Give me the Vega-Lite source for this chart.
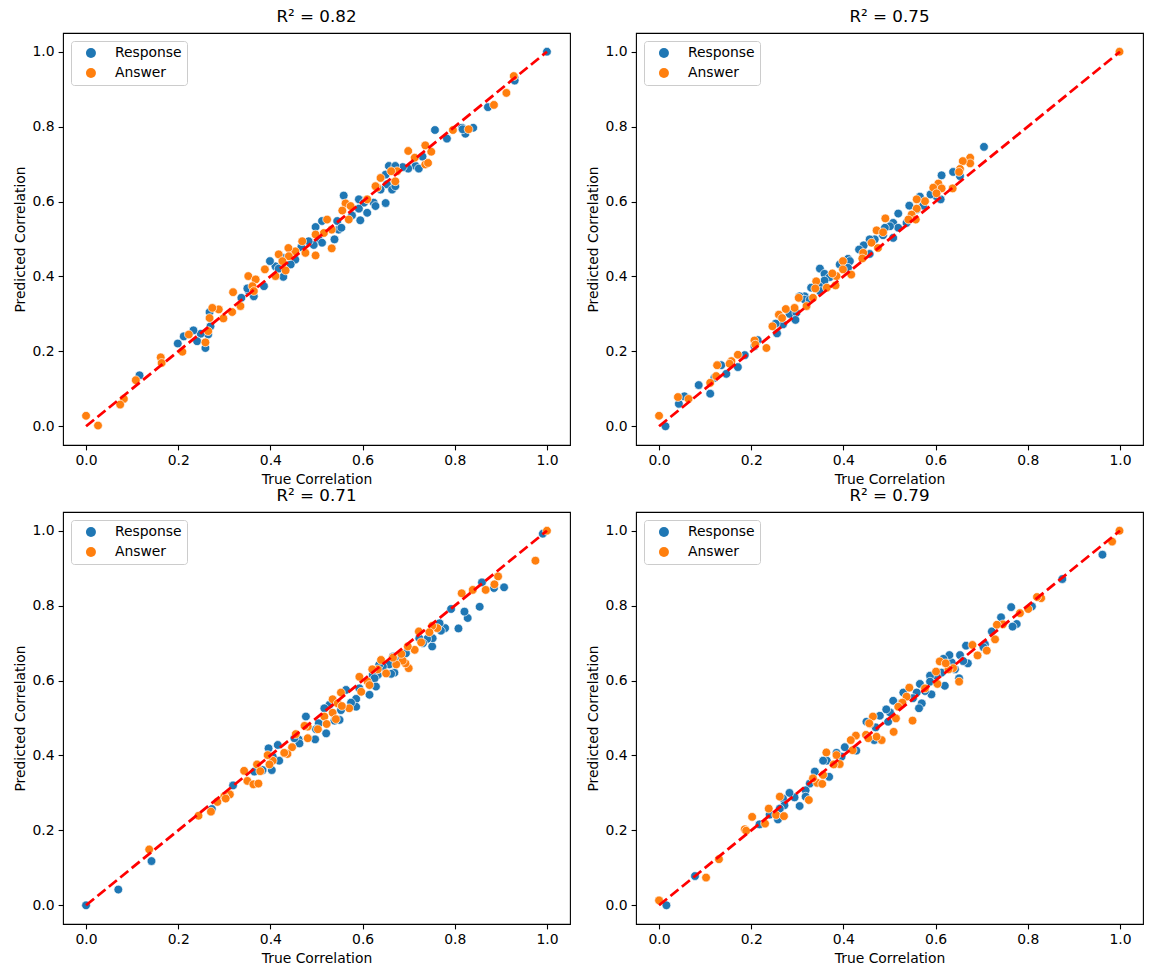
{
  "$schema": "https://vega.github.io/schema/vega-lite/v6.json",
  "background": "white",
  "padding": {"left": 12, "top": 8, "right": 5, "bottom": 5},
  "columns": 2,
  "spacing": {"row": 67, "column": 66},
  "bounds": "flush",
  "resolve": {"legend": {"color": "independent"}},
  "datasets": {
    "diag": [{"truth": 0, "pred": 0}, {"truth": 1, "pred": 1}],
    "p1": [
      {"truth": 1.0, "pred": 1.0, "series": "Response"},
      {"truth": 0.93, "pred": 0.93, "series": "Response"},
      {"truth": 0.93, "pred": 0.923, "series": "Response"},
      {"truth": 0.872, "pred": 0.852, "series": "Response"},
      {"truth": 0.757, "pred": 0.791, "series": "Response"},
      {"truth": 0.783, "pred": 0.768, "series": "Response"},
      {"truth": 0.816, "pred": 0.797, "series": "Response"},
      {"truth": 0.823, "pred": 0.781, "series": "Response"},
      {"truth": 0.84, "pred": 0.797, "series": "Response"},
      {"truth": 0.817, "pred": 0.793, "series": "Response"},
      {"truth": 0.73, "pred": 0.72, "series": "Response"},
      {"truth": 0.715, "pred": 0.695, "series": "Response"},
      {"truth": 0.722, "pred": 0.688, "series": "Response"},
      {"truth": 0.699, "pred": 0.688, "series": "Response"},
      {"truth": 0.687, "pred": 0.692, "series": "Response"},
      {"truth": 0.657, "pred": 0.695, "series": "Response"},
      {"truth": 0.671, "pred": 0.695, "series": "Response"},
      {"truth": 0.65, "pred": 0.672, "series": "Response"},
      {"truth": 0.653, "pred": 0.646, "series": "Response"},
      {"truth": 0.664, "pred": 0.632, "series": "Response"},
      {"truth": 0.671, "pred": 0.641, "series": "Response"},
      {"truth": 0.639, "pred": 0.632, "series": "Response"},
      {"truth": 0.65, "pred": 0.596, "series": "Response"},
      {"truth": 0.559, "pred": 0.616, "series": "Response"},
      {"truth": 0.592, "pred": 0.606, "series": "Response"},
      {"truth": 0.603, "pred": 0.597, "series": "Response"},
      {"truth": 0.624, "pred": 0.597, "series": "Response"},
      {"truth": 0.628, "pred": 0.588, "series": "Response"},
      {"truth": 0.61, "pred": 0.57, "series": "Response"},
      {"truth": 0.592, "pred": 0.581, "series": "Response"},
      {"truth": 0.595, "pred": 0.55, "series": "Response"},
      {"truth": 0.577, "pred": 0.563, "series": "Response"},
      {"truth": 0.548, "pred": 0.525, "series": "Response"},
      {"truth": 0.545, "pred": 0.548, "series": "Response"},
      {"truth": 0.539, "pred": 0.499, "series": "Response"},
      {"truth": 0.554, "pred": 0.53, "series": "Response"},
      {"truth": 0.498, "pred": 0.532, "series": "Response"},
      {"truth": 0.512, "pred": 0.548, "series": "Response"},
      {"truth": 0.505, "pred": 0.499, "series": "Response"},
      {"truth": 0.512, "pred": 0.49, "series": "Response"},
      {"truth": 0.494, "pred": 0.484, "series": "Response"},
      {"truth": 0.483, "pred": 0.494, "series": "Response"},
      {"truth": 0.467, "pred": 0.478, "series": "Response"},
      {"truth": 0.454, "pred": 0.445, "series": "Response"},
      {"truth": 0.444, "pred": 0.432, "series": "Response"},
      {"truth": 0.426, "pred": 0.45, "series": "Response"},
      {"truth": 0.428, "pred": 0.399, "series": "Response"},
      {"truth": 0.411, "pred": 0.427, "series": "Response"},
      {"truth": 0.418, "pred": 0.421, "series": "Response"},
      {"truth": 0.399, "pred": 0.441, "series": "Response"},
      {"truth": 0.386, "pred": 0.374, "series": "Response"},
      {"truth": 0.364, "pred": 0.347, "series": "Response"},
      {"truth": 0.353, "pred": 0.361, "series": "Response"},
      {"truth": 0.337, "pred": 0.343, "series": "Response"},
      {"truth": 0.35, "pred": 0.368, "series": "Response"},
      {"truth": 0.268, "pred": 0.305, "series": "Response"},
      {"truth": 0.27, "pred": 0.267, "series": "Response"},
      {"truth": 0.265, "pred": 0.245, "series": "Response"},
      {"truth": 0.259, "pred": 0.209, "series": "Response"},
      {"truth": 0.249, "pred": 0.247, "series": "Response"},
      {"truth": 0.233, "pred": 0.256, "series": "Response"},
      {"truth": 0.241, "pred": 0.227, "series": "Response"},
      {"truth": 0.212, "pred": 0.24, "series": "Response"},
      {"truth": 0.199, "pred": 0.221, "series": "Response"},
      {"truth": 0.116, "pred": 0.136, "series": "Response"},
      {"truth": 0.928, "pred": 0.935, "series": "Answer"},
      {"truth": 0.912, "pred": 0.89, "series": "Answer"},
      {"truth": 0.885, "pred": 0.858, "series": "Answer"},
      {"truth": 0.83, "pred": 0.793, "series": "Answer"},
      {"truth": 0.796, "pred": 0.791, "series": "Answer"},
      {"truth": 0.736, "pred": 0.75, "series": "Answer"},
      {"truth": 0.749, "pred": 0.733, "series": "Answer"},
      {"truth": 0.736, "pred": 0.699, "series": "Answer"},
      {"truth": 0.742, "pred": 0.703, "series": "Answer"},
      {"truth": 0.699, "pred": 0.735, "series": "Answer"},
      {"truth": 0.713, "pred": 0.717, "series": "Answer"},
      {"truth": 0.675, "pred": 0.681, "series": "Answer"},
      {"truth": 0.662, "pred": 0.681, "series": "Answer"},
      {"truth": 0.671, "pred": 0.654, "series": "Answer"},
      {"truth": 0.639, "pred": 0.663, "series": "Answer"},
      {"truth": 0.632, "pred": 0.637, "series": "Answer"},
      {"truth": 0.628, "pred": 0.641, "series": "Answer"},
      {"truth": 0.61, "pred": 0.606, "series": "Answer"},
      {"truth": 0.563, "pred": 0.595, "series": "Answer"},
      {"truth": 0.574, "pred": 0.588, "series": "Answer"},
      {"truth": 0.556, "pred": 0.576, "series": "Answer"},
      {"truth": 0.57, "pred": 0.552, "series": "Answer"},
      {"truth": 0.523, "pred": 0.552, "series": "Answer"},
      {"truth": 0.533, "pred": 0.525, "series": "Answer"},
      {"truth": 0.516, "pred": 0.516, "series": "Answer"},
      {"truth": 0.498, "pred": 0.512, "series": "Answer"},
      {"truth": 0.533, "pred": 0.475, "series": "Answer"},
      {"truth": 0.469, "pred": 0.494, "series": "Answer"},
      {"truth": 0.476, "pred": 0.463, "series": "Answer"},
      {"truth": 0.498, "pred": 0.456, "series": "Answer"},
      {"truth": 0.454, "pred": 0.467, "series": "Answer"},
      {"truth": 0.439, "pred": 0.476, "series": "Answer"},
      {"truth": 0.418, "pred": 0.459, "series": "Answer"},
      {"truth": 0.44, "pred": 0.454, "series": "Answer"},
      {"truth": 0.426, "pred": 0.441, "series": "Answer"},
      {"truth": 0.433, "pred": 0.416, "series": "Answer"},
      {"truth": 0.411, "pred": 0.401, "series": "Answer"},
      {"truth": 0.388, "pred": 0.419, "series": "Answer"},
      {"truth": 0.352, "pred": 0.401, "series": "Answer"},
      {"truth": 0.368, "pred": 0.392, "series": "Answer"},
      {"truth": 0.361, "pred": 0.374, "series": "Answer"},
      {"truth": 0.364, "pred": 0.361, "series": "Answer"},
      {"truth": 0.319, "pred": 0.358, "series": "Answer"},
      {"truth": 0.335, "pred": 0.321, "series": "Answer"},
      {"truth": 0.317, "pred": 0.305, "series": "Answer"},
      {"truth": 0.288, "pred": 0.312, "series": "Answer"},
      {"truth": 0.274, "pred": 0.316, "series": "Answer"},
      {"truth": 0.268, "pred": 0.289, "series": "Answer"},
      {"truth": 0.298, "pred": 0.288, "series": "Answer"},
      {"truth": 0.265, "pred": 0.254, "series": "Answer"},
      {"truth": 0.259, "pred": 0.224, "series": "Answer"},
      {"truth": 0.223, "pred": 0.245, "series": "Answer"},
      {"truth": 0.209, "pred": 0.199, "series": "Answer"},
      {"truth": 0.162, "pred": 0.184, "series": "Answer"},
      {"truth": 0.164, "pred": 0.169, "series": "Answer"},
      {"truth": 0.108, "pred": 0.123, "series": "Answer"},
      {"truth": 0.082, "pred": 0.073, "series": "Answer"},
      {"truth": 0.074, "pred": 0.058, "series": "Answer"},
      {"truth": 0.0, "pred": 0.028, "series": "Answer"},
      {"truth": 0.026, "pred": 0.002, "series": "Answer"}
    ],
    "p2": [
      {"truth": 0.705, "pred": 0.746, "series": "Response"},
      {"truth": 0.638, "pred": 0.679, "series": "Response"},
      {"truth": 0.653, "pred": 0.668, "series": "Response"},
      {"truth": 0.613, "pred": 0.67, "series": "Response"},
      {"truth": 0.611, "pred": 0.606, "series": "Response"},
      {"truth": 0.602, "pred": 0.614, "series": "Response"},
      {"truth": 0.589, "pred": 0.619, "series": "Response"},
      {"truth": 0.566, "pred": 0.613, "series": "Response"},
      {"truth": 0.543, "pred": 0.589, "series": "Response"},
      {"truth": 0.573, "pred": 0.589, "series": "Response"},
      {"truth": 0.559, "pred": 0.579, "series": "Response"},
      {"truth": 0.519, "pred": 0.568, "series": "Response"},
      {"truth": 0.537, "pred": 0.543, "series": "Response"},
      {"truth": 0.508, "pred": 0.543, "series": "Response"},
      {"truth": 0.519, "pred": 0.53, "series": "Response"},
      {"truth": 0.501, "pred": 0.534, "series": "Response"},
      {"truth": 0.49, "pred": 0.53, "series": "Response"},
      {"truth": 0.508, "pred": 0.503, "series": "Response"},
      {"truth": 0.486, "pred": 0.51, "series": "Response"},
      {"truth": 0.468, "pred": 0.499, "series": "Response"},
      {"truth": 0.457, "pred": 0.499, "series": "Response"},
      {"truth": 0.444, "pred": 0.483, "series": "Response"},
      {"truth": 0.434, "pred": 0.472, "series": "Response"},
      {"truth": 0.457, "pred": 0.46, "series": "Response"},
      {"truth": 0.41, "pred": 0.447, "series": "Response"},
      {"truth": 0.414, "pred": 0.441, "series": "Response"},
      {"truth": 0.392, "pred": 0.432, "series": "Response"},
      {"truth": 0.41, "pred": 0.423, "series": "Response"},
      {"truth": 0.349, "pred": 0.421, "series": "Response"},
      {"truth": 0.359, "pred": 0.407, "series": "Response"},
      {"truth": 0.37, "pred": 0.398, "series": "Response"},
      {"truth": 0.359, "pred": 0.389, "series": "Response"},
      {"truth": 0.347, "pred": 0.374, "series": "Response"},
      {"truth": 0.33, "pred": 0.37, "series": "Response"},
      {"truth": 0.349, "pred": 0.361, "series": "Response"},
      {"truth": 0.316, "pred": 0.347, "series": "Response"},
      {"truth": 0.305, "pred": 0.347, "series": "Response"},
      {"truth": 0.316, "pred": 0.338, "series": "Response"},
      {"truth": 0.327, "pred": 0.338, "series": "Response"},
      {"truth": 0.283, "pred": 0.3, "series": "Response"},
      {"truth": 0.298, "pred": 0.303, "series": "Response"},
      {"truth": 0.296, "pred": 0.284, "series": "Response"},
      {"truth": 0.269, "pred": 0.272, "series": "Response"},
      {"truth": 0.253, "pred": 0.274, "series": "Response"},
      {"truth": 0.256, "pred": 0.248, "series": "Response"},
      {"truth": 0.214, "pred": 0.23, "series": "Response"},
      {"truth": 0.207, "pred": 0.214, "series": "Response"},
      {"truth": 0.186, "pred": 0.19, "series": "Response"},
      {"truth": 0.171, "pred": 0.158, "series": "Response"},
      {"truth": 0.146, "pred": 0.14, "series": "Response"},
      {"truth": 0.135, "pred": 0.163, "series": "Response"},
      {"truth": 0.12, "pred": 0.129, "series": "Response"},
      {"truth": 0.111, "pred": 0.087, "series": "Response"},
      {"truth": 0.086, "pred": 0.11, "series": "Response"},
      {"truth": 0.055, "pred": 0.08, "series": "Response"},
      {"truth": 0.043, "pred": 0.06, "series": "Response"},
      {"truth": 0.014, "pred": 0.0, "series": "Response"},
      {"truth": 0.999, "pred": 1.0, "series": "Answer"},
      {"truth": 0.675, "pred": 0.717, "series": "Answer"},
      {"truth": 0.675, "pred": 0.702, "series": "Answer"},
      {"truth": 0.659, "pred": 0.708, "series": "Answer"},
      {"truth": 0.653, "pred": 0.687, "series": "Answer"},
      {"truth": 0.651, "pred": 0.679, "series": "Answer"},
      {"truth": 0.637, "pred": 0.635, "series": "Answer"},
      {"truth": 0.606, "pred": 0.648, "series": "Answer"},
      {"truth": 0.595, "pred": 0.637, "series": "Answer"},
      {"truth": 0.613, "pred": 0.635, "series": "Answer"},
      {"truth": 0.602, "pred": 0.622, "series": "Answer"},
      {"truth": 0.577, "pred": 0.601, "series": "Answer"},
      {"truth": 0.559, "pred": 0.606, "series": "Answer"},
      {"truth": 0.559, "pred": 0.581, "series": "Answer"},
      {"truth": 0.548, "pred": 0.565, "series": "Answer"},
      {"truth": 0.557, "pred": 0.552, "series": "Answer"},
      {"truth": 0.541, "pred": 0.552, "series": "Answer"},
      {"truth": 0.491, "pred": 0.555, "series": "Answer"},
      {"truth": 0.472, "pred": 0.523, "series": "Answer"},
      {"truth": 0.486, "pred": 0.518, "series": "Answer"},
      {"truth": 0.461, "pred": 0.49, "series": "Answer"},
      {"truth": 0.475, "pred": 0.476, "series": "Answer"},
      {"truth": 0.443, "pred": 0.463, "series": "Answer"},
      {"truth": 0.441, "pred": 0.448, "series": "Answer"},
      {"truth": 0.417, "pred": 0.405, "series": "Answer"},
      {"truth": 0.399, "pred": 0.441, "series": "Answer"},
      {"truth": 0.399, "pred": 0.419, "series": "Answer"},
      {"truth": 0.385, "pred": 0.401, "series": "Answer"},
      {"truth": 0.376, "pred": 0.408, "series": "Answer"},
      {"truth": 0.383, "pred": 0.376, "series": "Answer"},
      {"truth": 0.364, "pred": 0.37, "series": "Answer"},
      {"truth": 0.341, "pred": 0.387, "series": "Answer"},
      {"truth": 0.339, "pred": 0.368, "series": "Answer"},
      {"truth": 0.334, "pred": 0.343, "series": "Answer"},
      {"truth": 0.303, "pred": 0.343, "series": "Answer"},
      {"truth": 0.32, "pred": 0.321, "series": "Answer"},
      {"truth": 0.294, "pred": 0.316, "series": "Answer"},
      {"truth": 0.275, "pred": 0.313, "series": "Answer"},
      {"truth": 0.26, "pred": 0.298, "series": "Answer"},
      {"truth": 0.267, "pred": 0.289, "series": "Answer"},
      {"truth": 0.246, "pred": 0.267, "series": "Answer"},
      {"truth": 0.207, "pred": 0.229, "series": "Answer"},
      {"truth": 0.209, "pred": 0.218, "series": "Answer"},
      {"truth": 0.233, "pred": 0.209, "series": "Answer"},
      {"truth": 0.171, "pred": 0.191, "series": "Answer"},
      {"truth": 0.157, "pred": 0.174, "series": "Answer"},
      {"truth": 0.153, "pred": 0.167, "series": "Answer"},
      {"truth": 0.126, "pred": 0.163, "series": "Answer"},
      {"truth": 0.124, "pred": 0.134, "series": "Answer"},
      {"truth": 0.111, "pred": 0.116, "series": "Answer"},
      {"truth": 0.064, "pred": 0.073, "series": "Answer"},
      {"truth": 0.041, "pred": 0.078, "series": "Answer"},
      {"truth": 0.0, "pred": 0.028, "series": "Answer"}
    ],
    "p3": [
      {"truth": 0.991, "pred": 0.992, "series": "Response"},
      {"truth": 0.907, "pred": 0.849, "series": "Response"},
      {"truth": 0.885, "pred": 0.847, "series": "Response"},
      {"truth": 0.859, "pred": 0.862, "series": "Response"},
      {"truth": 0.854, "pred": 0.797, "series": "Response"},
      {"truth": 0.828, "pred": 0.767, "series": "Response"},
      {"truth": 0.821, "pred": 0.784, "series": "Response"},
      {"truth": 0.808, "pred": 0.739, "series": "Response"},
      {"truth": 0.792, "pred": 0.791, "series": "Response"},
      {"truth": 0.779, "pred": 0.74, "series": "Response"},
      {"truth": 0.767, "pred": 0.753, "series": "Response"},
      {"truth": 0.77, "pred": 0.733, "series": "Response"},
      {"truth": 0.751, "pred": 0.691, "series": "Response"},
      {"truth": 0.752, "pred": 0.713, "series": "Response"},
      {"truth": 0.74, "pred": 0.711, "series": "Response"},
      {"truth": 0.731, "pred": 0.7, "series": "Response"},
      {"truth": 0.723, "pred": 0.713, "series": "Response"},
      {"truth": 0.694, "pred": 0.673, "series": "Response"},
      {"truth": 0.676, "pred": 0.664, "series": "Response"},
      {"truth": 0.666, "pred": 0.664, "series": "Response"},
      {"truth": 0.658, "pred": 0.643, "series": "Response"},
      {"truth": 0.669, "pred": 0.621, "series": "Response"},
      {"truth": 0.662, "pred": 0.618, "series": "Response"},
      {"truth": 0.644, "pred": 0.637, "series": "Response"},
      {"truth": 0.636, "pred": 0.642, "series": "Response"},
      {"truth": 0.633, "pred": 0.615, "series": "Response"},
      {"truth": 0.622, "pred": 0.615, "series": "Response"},
      {"truth": 0.626, "pred": 0.606, "series": "Response"},
      {"truth": 0.629, "pred": 0.584, "series": "Response"},
      {"truth": 0.615, "pred": 0.562, "series": "Response"},
      {"truth": 0.593, "pred": 0.579, "series": "Response"},
      {"truth": 0.586, "pred": 0.551, "series": "Response"},
      {"truth": 0.586, "pred": 0.53, "series": "Response"},
      {"truth": 0.575, "pred": 0.541, "series": "Response"},
      {"truth": 0.564, "pred": 0.575, "series": "Response"},
      {"truth": 0.553, "pred": 0.521, "series": "Response"},
      {"truth": 0.55, "pred": 0.495, "series": "Response"},
      {"truth": 0.539, "pred": 0.493, "series": "Response"},
      {"truth": 0.528, "pred": 0.535, "series": "Response"},
      {"truth": 0.517, "pred": 0.526, "series": "Response"},
      {"truth": 0.521, "pred": 0.459, "series": "Response"},
      {"truth": 0.505, "pred": 0.486, "series": "Response"},
      {"truth": 0.499, "pred": 0.47, "series": "Response"},
      {"truth": 0.497, "pred": 0.443, "series": "Response"},
      {"truth": 0.477, "pred": 0.504, "series": "Response"},
      {"truth": 0.461, "pred": 0.443, "series": "Response"},
      {"truth": 0.463, "pred": 0.432, "series": "Response"},
      {"truth": 0.452, "pred": 0.446, "series": "Response"},
      {"truth": 0.419, "pred": 0.386, "series": "Response"},
      {"truth": 0.416, "pred": 0.428, "series": "Response"},
      {"truth": 0.405, "pred": 0.397, "series": "Response"},
      {"truth": 0.396, "pred": 0.419, "series": "Response"},
      {"truth": 0.403, "pred": 0.361, "series": "Response"},
      {"truth": 0.383, "pred": 0.361, "series": "Response"},
      {"truth": 0.365, "pred": 0.357, "series": "Response"},
      {"truth": 0.319, "pred": 0.32, "series": "Response"},
      {"truth": 0.273, "pred": 0.257, "series": "Response"},
      {"truth": 0.142, "pred": 0.118, "series": "Response"},
      {"truth": 0.07, "pred": 0.042, "series": "Response"},
      {"truth": 0.0, "pred": 0.0, "series": "Response"},
      {"truth": 1.0, "pred": 1.0, "series": "Answer"},
      {"truth": 0.975, "pred": 0.92, "series": "Answer"},
      {"truth": 0.894, "pred": 0.878, "series": "Answer"},
      {"truth": 0.886, "pred": 0.857, "series": "Answer"},
      {"truth": 0.867, "pred": 0.842, "series": "Answer"},
      {"truth": 0.839, "pred": 0.842, "series": "Answer"},
      {"truth": 0.815, "pred": 0.833, "series": "Answer"},
      {"truth": 0.762, "pred": 0.74, "series": "Answer"},
      {"truth": 0.751, "pred": 0.746, "series": "Answer"},
      {"truth": 0.745, "pred": 0.729, "series": "Answer"},
      {"truth": 0.727, "pred": 0.702, "series": "Answer"},
      {"truth": 0.722, "pred": 0.731, "series": "Answer"},
      {"truth": 0.713, "pred": 0.682, "series": "Answer"},
      {"truth": 0.698, "pred": 0.691, "series": "Answer"},
      {"truth": 0.7, "pred": 0.633, "series": "Answer"},
      {"truth": 0.693, "pred": 0.646, "series": "Answer"},
      {"truth": 0.687, "pred": 0.653, "series": "Answer"},
      {"truth": 0.684, "pred": 0.671, "series": "Answer"},
      {"truth": 0.673, "pred": 0.643, "series": "Answer"},
      {"truth": 0.666, "pred": 0.661, "series": "Answer"},
      {"truth": 0.651, "pred": 0.619, "series": "Answer"},
      {"truth": 0.64, "pred": 0.655, "series": "Answer"},
      {"truth": 0.633, "pred": 0.63, "series": "Answer"},
      {"truth": 0.621, "pred": 0.63, "series": "Answer"},
      {"truth": 0.611, "pred": 0.597, "series": "Answer"},
      {"truth": 0.593, "pred": 0.61, "series": "Answer"},
      {"truth": 0.597, "pred": 0.57, "series": "Answer"},
      {"truth": 0.615, "pred": 0.588, "series": "Answer"},
      {"truth": 0.571, "pred": 0.526, "series": "Answer"},
      {"truth": 0.553, "pred": 0.568, "series": "Answer"},
      {"truth": 0.535, "pred": 0.55, "series": "Answer"},
      {"truth": 0.546, "pred": 0.539, "series": "Answer"},
      {"truth": 0.555, "pred": 0.532, "series": "Answer"},
      {"truth": 0.535, "pred": 0.514, "series": "Answer"},
      {"truth": 0.517, "pred": 0.504, "series": "Answer"},
      {"truth": 0.542, "pred": 0.497, "series": "Answer"},
      {"truth": 0.522, "pred": 0.484, "series": "Answer"},
      {"truth": 0.503, "pred": 0.47, "series": "Answer"},
      {"truth": 0.481, "pred": 0.477, "series": "Answer"},
      {"truth": 0.474, "pred": 0.479, "series": "Answer"},
      {"truth": 0.481, "pred": 0.446, "series": "Answer"},
      {"truth": 0.455, "pred": 0.457, "series": "Answer"},
      {"truth": 0.447, "pred": 0.422, "series": "Answer"},
      {"truth": 0.437, "pred": 0.404, "series": "Answer"},
      {"truth": 0.43, "pred": 0.407, "series": "Answer"},
      {"truth": 0.405, "pred": 0.386, "series": "Answer"},
      {"truth": 0.394, "pred": 0.401, "series": "Answer"},
      {"truth": 0.398, "pred": 0.376, "series": "Answer"},
      {"truth": 0.371, "pred": 0.376, "series": "Answer"},
      {"truth": 0.378, "pred": 0.358, "series": "Answer"},
      {"truth": 0.343, "pred": 0.359, "series": "Answer"},
      {"truth": 0.35, "pred": 0.332, "series": "Answer"},
      {"truth": 0.363, "pred": 0.323, "series": "Answer"},
      {"truth": 0.374, "pred": 0.325, "series": "Answer"},
      {"truth": 0.312, "pred": 0.296, "series": "Answer"},
      {"truth": 0.3, "pred": 0.291, "series": "Answer"},
      {"truth": 0.285, "pred": 0.276, "series": "Answer"},
      {"truth": 0.303, "pred": 0.285, "series": "Answer"},
      {"truth": 0.271, "pred": 0.25, "series": "Answer"},
      {"truth": 0.244, "pred": 0.239, "series": "Answer"},
      {"truth": 0.137, "pred": 0.149, "series": "Answer"}
    ],
    "p4": [
      {"truth": 0.962, "pred": 0.936, "series": "Response"},
      {"truth": 0.875, "pred": 0.871, "series": "Response"},
      {"truth": 0.809, "pred": 0.798, "series": "Response"},
      {"truth": 0.764, "pred": 0.796, "series": "Response"},
      {"truth": 0.776, "pred": 0.751, "series": "Response"},
      {"truth": 0.767, "pred": 0.744, "series": "Response"},
      {"truth": 0.742, "pred": 0.769, "series": "Response"},
      {"truth": 0.722, "pred": 0.731, "series": "Response"},
      {"truth": 0.707, "pred": 0.697, "series": "Response"},
      {"truth": 0.704, "pred": 0.689, "series": "Response"},
      {"truth": 0.666, "pred": 0.693, "series": "Response"},
      {"truth": 0.653, "pred": 0.668, "series": "Response"},
      {"truth": 0.67, "pred": 0.646, "series": "Response"},
      {"truth": 0.66, "pred": 0.652, "series": "Response"},
      {"truth": 0.635, "pred": 0.648, "series": "Response"},
      {"truth": 0.63, "pred": 0.668, "series": "Response"},
      {"truth": 0.617, "pred": 0.658, "series": "Response"},
      {"truth": 0.642, "pred": 0.63, "series": "Response"},
      {"truth": 0.651, "pred": 0.606, "series": "Response"},
      {"truth": 0.62, "pred": 0.586, "series": "Response"},
      {"truth": 0.613, "pred": 0.621, "series": "Response"},
      {"truth": 0.602, "pred": 0.613, "series": "Response"},
      {"truth": 0.588, "pred": 0.613, "series": "Response"},
      {"truth": 0.588, "pred": 0.597, "series": "Response"},
      {"truth": 0.591, "pred": 0.563, "series": "Response"},
      {"truth": 0.577, "pred": 0.572, "series": "Response"},
      {"truth": 0.566, "pred": 0.591, "series": "Response"},
      {"truth": 0.559, "pred": 0.568, "series": "Response"},
      {"truth": 0.57, "pred": 0.539, "series": "Response"},
      {"truth": 0.564, "pred": 0.526, "series": "Response"},
      {"truth": 0.551, "pred": 0.553, "series": "Response"},
      {"truth": 0.53, "pred": 0.568, "series": "Response"},
      {"truth": 0.525, "pred": 0.539, "series": "Response"},
      {"truth": 0.508, "pred": 0.546, "series": "Response"},
      {"truth": 0.501, "pred": 0.515, "series": "Response"},
      {"truth": 0.493, "pred": 0.523, "series": "Response"},
      {"truth": 0.497, "pred": 0.49, "series": "Response"},
      {"truth": 0.479, "pred": 0.506, "series": "Response"},
      {"truth": 0.47, "pred": 0.475, "series": "Response"},
      {"truth": 0.45, "pred": 0.49, "series": "Response"},
      {"truth": 0.467, "pred": 0.441, "series": "Response"},
      {"truth": 0.428, "pred": 0.413, "series": "Response"},
      {"truth": 0.403, "pred": 0.422, "series": "Response"},
      {"truth": 0.396, "pred": 0.397, "series": "Response"},
      {"truth": 0.385, "pred": 0.407, "series": "Response"},
      {"truth": 0.364, "pred": 0.386, "series": "Response"},
      {"truth": 0.356, "pred": 0.386, "series": "Response"},
      {"truth": 0.369, "pred": 0.343, "series": "Response"},
      {"truth": 0.338, "pred": 0.357, "series": "Response"},
      {"truth": 0.327, "pred": 0.325, "series": "Response"},
      {"truth": 0.318, "pred": 0.307, "series": "Response"},
      {"truth": 0.318, "pred": 0.29, "series": "Response"},
      {"truth": 0.305, "pred": 0.265, "series": "Response"},
      {"truth": 0.294, "pred": 0.288, "series": "Response"},
      {"truth": 0.283, "pred": 0.3, "series": "Response"},
      {"truth": 0.269, "pred": 0.285, "series": "Response"},
      {"truth": 0.272, "pred": 0.267, "series": "Response"},
      {"truth": 0.262, "pred": 0.258, "series": "Response"},
      {"truth": 0.258, "pred": 0.229, "series": "Response"},
      {"truth": 0.24, "pred": 0.242, "series": "Response"},
      {"truth": 0.218, "pred": 0.216, "series": "Response"},
      {"truth": 0.078, "pred": 0.078, "series": "Response"},
      {"truth": 0.016, "pred": 0.0, "series": "Response"},
      {"truth": 0.999, "pred": 1.0, "series": "Answer"},
      {"truth": 0.983, "pred": 0.971, "series": "Answer"},
      {"truth": 0.829, "pred": 0.82, "series": "Answer"},
      {"truth": 0.82, "pred": 0.823, "series": "Answer"},
      {"truth": 0.801, "pred": 0.791, "series": "Answer"},
      {"truth": 0.783, "pred": 0.78, "series": "Answer"},
      {"truth": 0.746, "pred": 0.75, "series": "Answer"},
      {"truth": 0.733, "pred": 0.749, "series": "Answer"},
      {"truth": 0.729, "pred": 0.71, "series": "Answer"},
      {"truth": 0.711, "pred": 0.68, "series": "Answer"},
      {"truth": 0.691, "pred": 0.667, "series": "Answer"},
      {"truth": 0.68, "pred": 0.695, "series": "Answer"},
      {"truth": 0.638, "pred": 0.633, "series": "Answer"},
      {"truth": 0.628, "pred": 0.63, "series": "Answer"},
      {"truth": 0.609, "pred": 0.651, "series": "Answer"},
      {"truth": 0.622, "pred": 0.646, "series": "Answer"},
      {"truth": 0.601, "pred": 0.624, "series": "Answer"},
      {"truth": 0.651, "pred": 0.597, "series": "Answer"},
      {"truth": 0.604, "pred": 0.591, "series": "Answer"},
      {"truth": 0.577, "pred": 0.579, "series": "Answer"},
      {"truth": 0.543, "pred": 0.581, "series": "Answer"},
      {"truth": 0.537, "pred": 0.557, "series": "Answer"},
      {"truth": 0.528, "pred": 0.541, "series": "Answer"},
      {"truth": 0.519, "pred": 0.53, "series": "Answer"},
      {"truth": 0.55, "pred": 0.493, "series": "Answer"},
      {"truth": 0.514, "pred": 0.499, "series": "Answer"},
      {"truth": 0.509, "pred": 0.463, "series": "Answer"},
      {"truth": 0.483, "pred": 0.441, "series": "Answer"},
      {"truth": 0.472, "pred": 0.45, "series": "Answer"},
      {"truth": 0.457, "pred": 0.484, "series": "Answer"},
      {"truth": 0.464, "pred": 0.504, "series": "Answer"},
      {"truth": 0.456, "pred": 0.486, "series": "Answer"},
      {"truth": 0.449, "pred": 0.455, "series": "Answer"},
      {"truth": 0.454, "pred": 0.446, "series": "Answer"},
      {"truth": 0.427, "pred": 0.453, "series": "Answer"},
      {"truth": 0.416, "pred": 0.441, "series": "Answer"},
      {"truth": 0.42, "pred": 0.414, "series": "Answer"},
      {"truth": 0.385, "pred": 0.401, "series": "Answer"},
      {"truth": 0.363, "pred": 0.408, "series": "Answer"},
      {"truth": 0.392, "pred": 0.377, "series": "Answer"},
      {"truth": 0.379, "pred": 0.376, "series": "Answer"},
      {"truth": 0.356, "pred": 0.348, "series": "Answer"},
      {"truth": 0.343, "pred": 0.327, "series": "Answer"},
      {"truth": 0.334, "pred": 0.339, "series": "Answer"},
      {"truth": 0.354, "pred": 0.324, "series": "Answer"},
      {"truth": 0.325, "pred": 0.281, "series": "Answer"},
      {"truth": 0.262, "pred": 0.29, "series": "Answer"},
      {"truth": 0.238, "pred": 0.258, "series": "Answer"},
      {"truth": 0.254, "pred": 0.241, "series": "Answer"},
      {"truth": 0.271, "pred": 0.238, "series": "Answer"},
      {"truth": 0.23, "pred": 0.218, "series": "Answer"},
      {"truth": 0.202, "pred": 0.236, "series": "Answer"},
      {"truth": 0.186, "pred": 0.203, "series": "Answer"},
      {"truth": 0.189, "pred": 0.199, "series": "Answer"},
      {"truth": 0.13, "pred": 0.123, "series": "Answer"},
      {"truth": 0.102, "pred": 0.074, "series": "Answer"},
      {"truth": 0.0, "pred": 0.013, "series": "Answer"}
    ]
  },
  "concat": [
    {
      "title": "R² = 0.82",
      "width": 507,
      "height": 412,
      "layer": [
        {
          "data": {"name": "p1"},
          "mark": {"type": "circle", "size": 76, "opacity": 1, "stroke": "white", "strokeWidth": 0.67},
          "encoding": {
            "x": {"field": "truth", "type": "quantitative", "title": "True Correlation", "scale": {"domain": [-0.05, 1.05], "nice": false, "zero": false}, "axis": {"values": [0, 0.2, 0.4, 0.6, 0.8, 1], "format": ".1f"}},
            "y": {"field": "pred", "type": "quantitative", "title": "Predicted Correlation", "scale": {"domain": [-0.05, 1.05], "nice": false, "zero": false}, "axis": {"values": [0, 0.2, 0.4, 0.6, 0.8, 1], "format": ".1f"}},
            "color": {"field": "series", "type": "nominal", "scale": {"domain": ["Response", "Answer"], "range": ["#1f77b4", "#ff7f0e"]}, "legend": {"orient": "top-left", "offset": 8, "title": null}}
          }
        },
        {
          "data": {"name": "diag"},
          "mark": {"type": "line", "color": "red", "strokeWidth": 2.78, "strokeDash": [10.3, 4.4]},
          "encoding": {
            "x": {"field": "truth", "type": "quantitative"},
            "y": {"field": "pred", "type": "quantitative"}
          }
        }
      ]
    },
    {
      "title": "R² = 0.75",
      "width": 507,
      "height": 412,
      "layer": [
        {
          "data": {"name": "p2"},
          "mark": {"type": "circle", "size": 76, "opacity": 1, "stroke": "white", "strokeWidth": 0.67},
          "encoding": {
            "x": {"field": "truth", "type": "quantitative", "title": "True Correlation", "scale": {"domain": [-0.05, 1.05], "nice": false, "zero": false}, "axis": {"values": [0, 0.2, 0.4, 0.6, 0.8, 1], "format": ".1f"}},
            "y": {"field": "pred", "type": "quantitative", "title": "Predicted Correlation", "scale": {"domain": [-0.05, 1.05], "nice": false, "zero": false}, "axis": {"values": [0, 0.2, 0.4, 0.6, 0.8, 1], "format": ".1f"}},
            "color": {"field": "series", "type": "nominal", "scale": {"domain": ["Response", "Answer"], "range": ["#1f77b4", "#ff7f0e"]}, "legend": {"orient": "top-left", "offset": 8, "title": null}}
          }
        },
        {
          "data": {"name": "diag"},
          "mark": {"type": "line", "color": "red", "strokeWidth": 2.78, "strokeDash": [10.3, 4.4]},
          "encoding": {
            "x": {"field": "truth", "type": "quantitative"},
            "y": {"field": "pred", "type": "quantitative"}
          }
        }
      ]
    },
    {
      "title": "R² = 0.71",
      "width": 507,
      "height": 412,
      "layer": [
        {
          "data": {"name": "p3"},
          "mark": {"type": "circle", "size": 76, "opacity": 1, "stroke": "white", "strokeWidth": 0.67},
          "encoding": {
            "x": {"field": "truth", "type": "quantitative", "title": "True Correlation", "scale": {"domain": [-0.05, 1.05], "nice": false, "zero": false}, "axis": {"values": [0, 0.2, 0.4, 0.6, 0.8, 1], "format": ".1f"}},
            "y": {"field": "pred", "type": "quantitative", "title": "Predicted Correlation", "scale": {"domain": [-0.05, 1.05], "nice": false, "zero": false}, "axis": {"values": [0, 0.2, 0.4, 0.6, 0.8, 1], "format": ".1f"}},
            "color": {"field": "series", "type": "nominal", "scale": {"domain": ["Response", "Answer"], "range": ["#1f77b4", "#ff7f0e"]}, "legend": {"orient": "top-left", "offset": 8, "title": null}}
          }
        },
        {
          "data": {"name": "diag"},
          "mark": {"type": "line", "color": "red", "strokeWidth": 2.78, "strokeDash": [10.3, 4.4]},
          "encoding": {
            "x": {"field": "truth", "type": "quantitative"},
            "y": {"field": "pred", "type": "quantitative"}
          }
        }
      ]
    },
    {
      "title": "R² = 0.79",
      "width": 507,
      "height": 412,
      "layer": [
        {
          "data": {"name": "p4"},
          "mark": {"type": "circle", "size": 76, "opacity": 1, "stroke": "white", "strokeWidth": 0.67},
          "encoding": {
            "x": {"field": "truth", "type": "quantitative", "title": "True Correlation", "scale": {"domain": [-0.05, 1.05], "nice": false, "zero": false}, "axis": {"values": [0, 0.2, 0.4, 0.6, 0.8, 1], "format": ".1f"}},
            "y": {"field": "pred", "type": "quantitative", "title": "Predicted Correlation", "scale": {"domain": [-0.05, 1.05], "nice": false, "zero": false}, "axis": {"values": [0, 0.2, 0.4, 0.6, 0.8, 1], "format": ".1f"}},
            "color": {"field": "series", "type": "nominal", "scale": {"domain": ["Response", "Answer"], "range": ["#1f77b4", "#ff7f0e"]}, "legend": {"orient": "top-left", "offset": 8, "title": null}}
          }
        },
        {
          "data": {"name": "diag"},
          "mark": {"type": "line", "color": "red", "strokeWidth": 2.78, "strokeDash": [10.3, 4.4]},
          "encoding": {
            "x": {"field": "truth", "type": "quantitative"},
            "y": {"field": "pred", "type": "quantitative"}
          }
        }
      ]
    }
  ],
  "config": {
    "font": "DejaVu Sans",
    "view": {"stroke": "black", "strokeWidth": 1.1},
    "axis": {
      "domain": false,
      "grid": false,
      "tickSize": 4.9,
      "tickWidth": 1.1,
      "tickColor": "black",
      "labelFont": "DejaVu Sans",
      "labelFontSize": 13.9,
      "labelColor": "black",
      "labelPadding": 4,
      "labelFlush": false,
      "labelOverlap": false,
      "titleFont": "DejaVu Sans",
      "titleFontSize": 13.9,
      "titleFontWeight": "normal",
      "titleColor": "black",
      "titlePadding": 5
    },
    "title": {"font": "DejaVu Sans", "fontSize": 16.7, "fontWeight": "normal", "color": "black", "offset": 7, "anchor": "middle"},
    "legend": {
      "padding": 5,
      "fillColor": "white",
      "strokeColor": "#cccccc",
      "cornerRadius": 3,
      "symbolType": "circle",
      "symbolSize": 100,
      "symbolStrokeWidth": 0,
      "symbolOffset": 8,
      "labelOffset": 17,
      "rowPadding": 5,
      "labelFont": "DejaVu Sans",
      "labelFontSize": 13.9,
      "labelColor": "black"
    }
  }
}
